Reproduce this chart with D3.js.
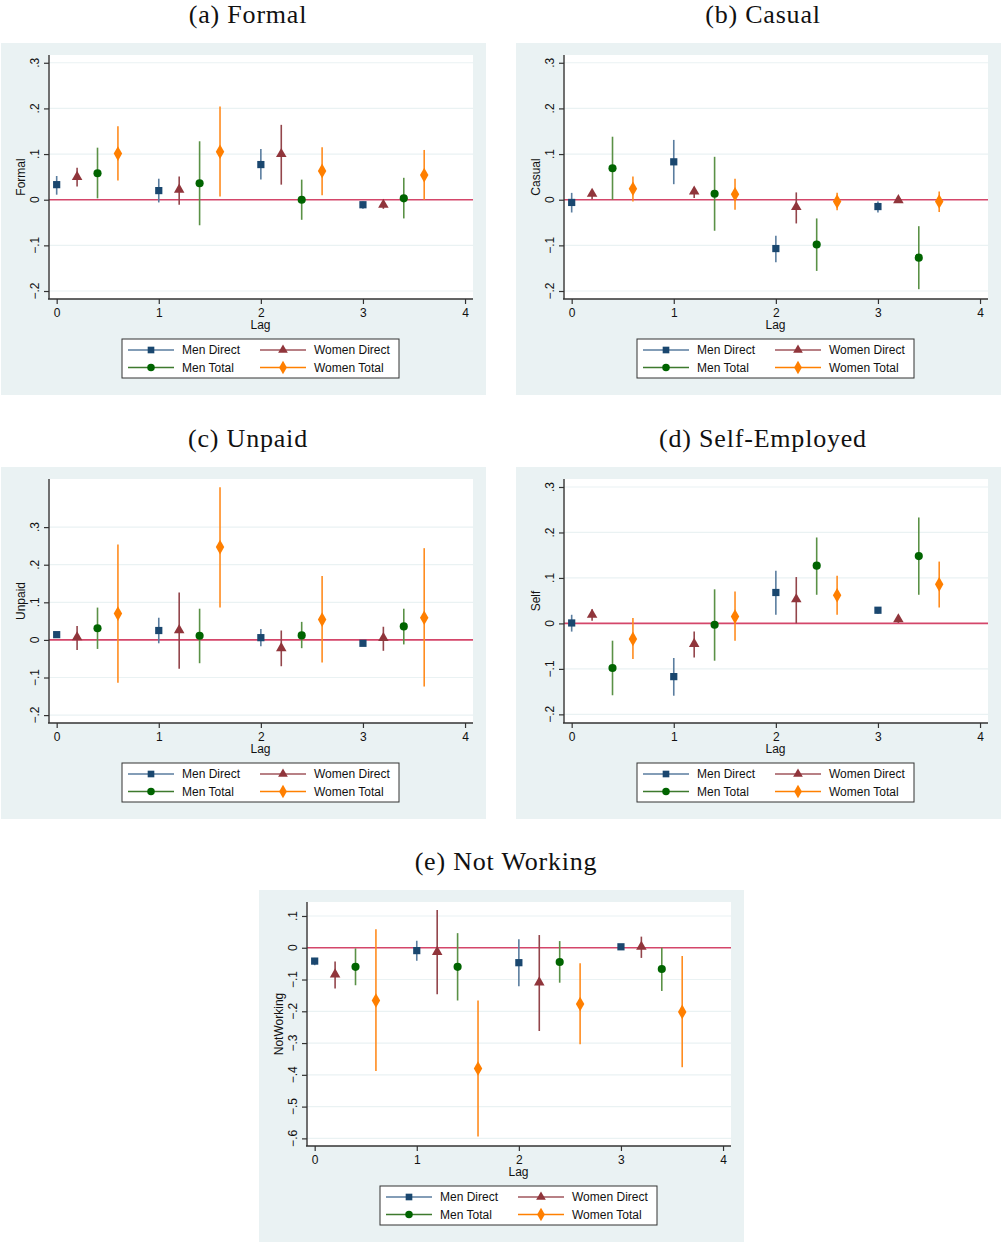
<!DOCTYPE html>
<html>
<head>
<meta charset="utf-8">
<script src="https://cdn.jsdelivr.net/npm/d3@7"></script>
<style>
  html, body { margin: 0; padding: 0; background: #ffffff; }
  svg { display: block; }
</style>
</head>
<body>
<svg id="chart" width="1001" height="1245"></svg>
<script>
// ---------------- DATA ----------------
const lags = [0, 1, 2, 3];
const seriesNames = ["Men Direct", "Women Direct", "Men Total", "Women Total"];
const seriesShift = [0, 0.2, 0.4, 0.6];           // x offset from lag (data units)
const xTicks = [0, 1, 2, 3, 4];
const xTickLabels = ["0", "1", "2", "3", "4"];

// each row: [estimate, lower CI, upper CI] for lag 0..3
const formalMenDirect   = [[0.033, 0.011, 0.052], [0.020, -0.006, 0.046], [0.077, 0.044, 0.111], [-0.011, -0.020, -0.004]];
const formalWomenDirect = [[0.050, 0.029, 0.070], [0.022, -0.011, 0.051], [0.100, 0.033, 0.164], [-0.011, -0.020, -0.004]];
const formalMenTotal    = [[0.058, 0.003, 0.114], [0.036, -0.056, 0.128], [0.000, -0.044, 0.044], [0.003, -0.041, 0.048]];
const formalWomenTotal  = [[0.101, 0.042, 0.161], [0.105, 0.007, 0.204], [0.063, 0.010, 0.115], [0.054, 0.000, 0.109]];

const casualMenDirect   = [[-0.006, -0.028, 0.015], [0.083, 0.034, 0.131], [-0.107, -0.137, -0.079], [-0.015, -0.028, -0.004]];
const casualWomenDirect = [[0.013, 0.001, 0.020], [0.018, 0.004, 0.028], [-0.016, -0.052, 0.016], [-0.001, -0.007, 0.004]];
const casualMenTotal    = [[0.069, 0.000, 0.138], [0.013, -0.068, 0.094], [-0.098, -0.156, -0.041], [-0.127, -0.196, -0.058]];
const casualWomenTotal  = [[0.024, -0.004, 0.051], [0.012, -0.022, 0.046], [-0.004, -0.023, 0.015], [-0.004, -0.027, 0.018]];

const unpaidMenDirect   = [[0.014, 0.010, 0.019], [0.025, -0.009, 0.059], [0.006, -0.017, 0.029], [-0.009, -0.013, -0.005]];
const unpaidWomenDirect = [[0.007, -0.027, 0.037], [0.026, -0.077, 0.126], [-0.022, -0.070, 0.025], [0.005, -0.029, 0.035]];
const unpaidMenTotal    = [[0.031, -0.024, 0.086], [0.011, -0.062, 0.083], [0.012, -0.022, 0.048], [0.036, -0.012, 0.083]];
const unpaidWomenTotal  = [[0.070, -0.114, 0.254], [0.247, 0.086, 0.406], [0.054, -0.060, 0.170], [0.059, -0.124, 0.244]];

const selfMenDirect     = [[0.001, -0.018, 0.019], [-0.117, -0.159, -0.076], [0.068, 0.019, 0.116], [0.029, 0.021, 0.035]];
const selfWomenDirect   = [[0.019, 0.006, 0.031], [-0.045, -0.075, -0.018], [0.053, 0.000, 0.102], [0.009, 0.001, 0.015]];
const selfMenTotal      = [[-0.098, -0.158, -0.038], [-0.003, -0.082, 0.075], [0.127, 0.063, 0.189], [0.148, 0.063, 0.233]];
const selfWomenTotal    = [[-0.034, -0.078, 0.012], [0.015, -0.038, 0.070], [0.062, 0.019, 0.105], [0.086, 0.035, 0.136]];

const notWorkMenDirect   = [[-0.042, -0.055, -0.032], [-0.009, -0.041, 0.022], [-0.047, -0.121, 0.027], [0.003, 0.000, 0.006]];
const notWorkWomenDirect = [[-0.084, -0.128, -0.043], [-0.013, -0.146, 0.119], [-0.109, -0.262, 0.040], [0.003, -0.032, 0.035]];
const notWorkMenTotal    = [[-0.060, -0.118, -0.002], [-0.060, -0.166, 0.046], [-0.045, -0.110, 0.021], [-0.067, -0.136, 0.000]];
const notWorkWomenTotal  = [[-0.166, -0.388, 0.058], [-0.380, -0.594, -0.166], [-0.177, -0.304, -0.049], [-0.202, -0.376, -0.026]];

const ticksSmall = [-0.2, -0.1, 0, 0.1, 0.2, 0.3];
const ticksNotWork = [-0.6, -0.5, -0.4, -0.3, -0.2, -0.1, 0, 0.1];
const fmtTick = v => {
  if (Math.abs(v) < 1e-9) return "0";
  const s = Math.abs(v).toFixed(1).replace(/^0/, "");
  return (v < 0 ? "\u2212" : "") + s;
};

// ---------------- STYLE ----------------
const markerColors = ["#1a476f", "#90353b", "#006400", "#ff7f00"];
const lineColors   = ["#5a7d9f", "#93454b", "#5a9146", "#ff8c1f"];
const legendLineColors = ["#5a7d9f", "#a0565c", "#3d7a2d", "#ff8000"];
const symbolTypes = [d3.symbolSquare, d3.symbolTriangle, d3.symbolCircle, d3.symbolDiamond];
const symbolSizes = [52, 48, 52, 62];
const bgColor = "#eaf2f3";
const zeroColor = "#d4466a";
const axisColor = "#333333";
const sansFont = "'Liberation Sans', Arial, Helvetica, sans-serif";
const serifFont = "'Liberation Serif', 'Times New Roman', serif";

const panels = [
  { title: "(a) Formal", ylabel: "Formal", bx: 1, by: 43, ticks: ticksSmall, ydom: [-0.2175, 0.317],
    data: [formalMenDirect, formalWomenDirect, formalMenTotal, formalWomenTotal] },
  { title: "(b) Casual", ylabel: "Casual", bx: 516, by: 43, ticks: ticksSmall, ydom: [-0.2175, 0.317],
    data: [casualMenDirect, casualWomenDirect, casualMenTotal, casualWomenTotal] },
  { title: "(c) Unpaid", ylabel: "Unpaid", bx: 1, by: 467, ticks: ticksSmall, ydom: [-0.221, 0.428],
    data: [unpaidMenDirect, unpaidWomenDirect, unpaidMenTotal, unpaidWomenTotal] },
  { title: "(d) Self-Employed", ylabel: "Self", bx: 516, by: 467, ticks: ticksSmall, ydom: [-0.219, 0.3176],
    data: [selfMenDirect, selfWomenDirect, selfMenTotal, selfWomenTotal] },
  { title: "(e) Not Working", ylabel: "NotWorking", bx: 259, by: 890, ticks: ticksNotWork, ydom: [-0.624, 0.144],
    data: [notWorkMenDirect, notWorkWomenDirect, notWorkMenTotal, notWorkWomenTotal] }
];

const svg = d3.select("#chart");
const W = 485, H = 352;            // panel background size
const PL = 47, PR = 472, PT = 12, PB = 256;   // plot region inside panel

panels.forEach(p => {
  const g = svg.append("g").attr("transform", `translate(${p.bx},${p.by})`);

  // title
  svg.append("text")
    .attr("x", p.bx + 247).attr("y", p.by - 20)
    .attr("text-anchor", "middle")
    .attr("font-family", serifFont).attr("font-size", 26)
    .attr("letter-spacing", 0.8)
    .attr("fill", "#111")
    .text(p.title);

  g.append("rect").attr("width", W).attr("height", H).attr("fill", bgColor);
  g.append("rect").attr("x", PL).attr("y", PT).attr("width", PR - PL).attr("height", PB - PT).attr("fill", "#ffffff");

  const x = d3.scaleLinear().domain([-0.085, 4.078]).range([PL, PR]);
  const y = d3.scaleLinear().domain(p.ydom).range([PB, PT]);

  // gridlines
  g.append("g").selectAll("line").data(p.ticks.filter(t => Math.abs(t) > 1e-9)).join("line")
    .attr("x1", PL + 1).attr("x2", PR)
    .attr("y1", d => y(d)).attr("y2", d => y(d))
    .attr("stroke", bgColor).attr("stroke-width", 1.2);

  // zero line
  g.append("line").attr("x1", PL + 1).attr("x2", PR).attr("y1", y(0)).attr("y2", y(0))
    .attr("stroke", zeroColor).attr("stroke-width", 1.6);

  // y axis
  const yAxis = d3.axisLeft(y).tickValues(p.ticks).tickSize(5).tickFormat("");
  const ya = g.append("g").attr("transform", `translate(${PL + 1},0)`).call(yAxis);
  ya.select(".domain").remove();
  ya.selectAll(".tick line").attr("stroke", axisColor).attr("stroke-width", 1.2);
  g.append("line").attr("x1", PL + 1).attr("x2", PL + 1).attr("y1", PT).attr("y2", PB)
    .attr("stroke", axisColor).attr("stroke-width", 1.4);
  g.append("g").selectAll("text").data(p.ticks).join("text")
    .attr("transform", d => `translate(${PL - 9},${y(d)}) rotate(-90)`)
    .attr("text-anchor", "middle")
    .attr("font-family", sansFont).attr("font-size", 12).attr("fill", "#111")
    .text(fmtTick);

  // x axis
  const xAxis = d3.axisBottom(x).tickValues(xTicks).tickSize(5).tickFormat((d, i) => xTickLabels[i]);
  const xa = g.append("g").attr("transform", `translate(0,${PB})`).call(xAxis);
  xa.select(".domain").remove();
  xa.selectAll(".tick line").attr("stroke", axisColor).attr("stroke-width", 1.2);
  xa.selectAll(".tick text").attr("font-family", sansFont).attr("font-size", 12).attr("fill", "#111").attr("dy", "0.85em");
  g.append("line").attr("x1", PL).attr("x2", PR).attr("y1", PB).attr("y2", PB)
    .attr("stroke", axisColor).attr("stroke-width", 1.4);

  // axis titles
  g.append("text").attr("x", (PL + PR) / 2).attr("y", PB + 30)
    .attr("text-anchor", "middle").attr("font-family", sansFont).attr("font-size", 12).attr("fill", "#111")
    .text("Lag");
  g.append("text").attr("transform", `translate(24,${(PT + PB) / 2}) rotate(-90)`)
    .attr("text-anchor", "middle").attr("font-family", sansFont).attr("font-size", 12).attr("fill", "#111")
    .text(p.ylabel);

  // series: CI spikes and markers
  p.data.forEach((ser, si) => {
    const rows = ser.map((r, li) => ({ xv: lags[li] + seriesShift[si], est: r[0], lo: r[1], hi: r[2] }));
    g.append("g").selectAll("line").data(rows).join("line")
      .attr("x1", d => x(d.xv)).attr("x2", d => x(d.xv))
      .attr("y1", d => y(d.lo)).attr("y2", d => y(d.hi))
      .attr("stroke", lineColors[si]).attr("stroke-width", 1.6);
    const sym = d3.symbol().type(symbolTypes[si]).size(symbolSizes[si]);
    g.append("g").selectAll("path").data(rows).join("path")
      .attr("d", sym)
      .attr("transform", d => `translate(${x(d.xv)},${y(d.est)})`)
      .attr("fill", markerColors[si]);
  });

  // legend
  const lg = g.append("g").attr("transform", `translate(121,296)`);
  lg.append("rect").attr("width", 277).attr("height", 39).attr("fill", "#ffffff")
    .attr("stroke", axisColor).attr("stroke-width", 1);
  seriesNames.forEach((name, si) => {
    const col = si % 2 === 0 ? 0 : 1;
    const row = si < 2 ? 0 : 1;
    const lx = col === 0 ? 6 : 138;
    const ly = row === 0 ? 11 : 28.5;
    lg.append("line").attr("x1", lx).attr("x2", lx + 46).attr("y1", ly).attr("y2", ly)
      .attr("stroke", legendLineColors[si]).attr("stroke-width", 1.4);
    lg.append("path").attr("d", d3.symbol().type(symbolTypes[si]).size(symbolSizes[si] * 0.85)())
      .attr("transform", `translate(${lx + 23},${ly})`).attr("fill", markerColors[si]);
    lg.append("text").attr("x", lx + 54).attr("y", ly + 4.3)
      .attr("font-family", sansFont).attr("font-size", 12).attr("fill", "#111")
      .text(name);
  });
});
</script>
</body>
</html>
